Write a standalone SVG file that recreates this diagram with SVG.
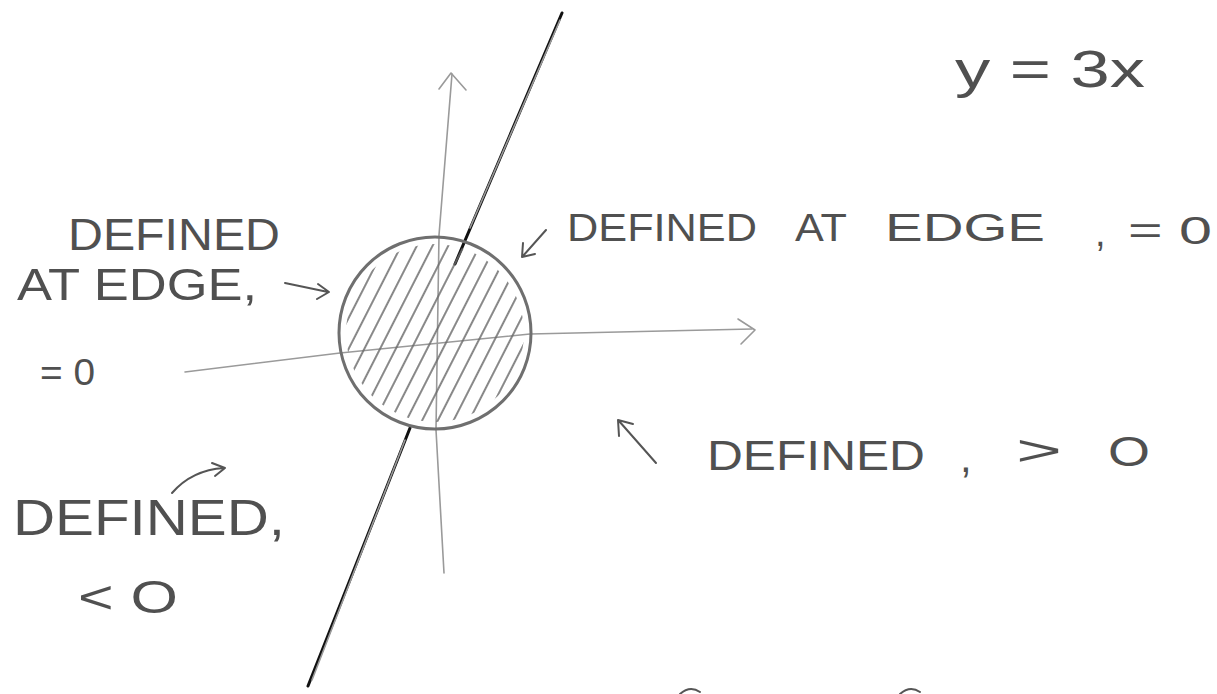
<svg xmlns="http://www.w3.org/2000/svg" width="1217" height="694" viewBox="0 0 1217 694">
<style>
.lbl{font-family:"Liberation Sans","DejaVu Sans",sans-serif;fill:#505050;font-weight:normal}
.pen{fill:none;stroke:#555;stroke-width:2;stroke-linecap:round;stroke-linejoin:round}
.faint{fill:none;stroke:#9a9a9a;stroke-width:1.6;stroke-linecap:round;stroke-linejoin:round}
.ink{fill:none;stroke:#111;stroke-width:3;stroke-linecap:round}
</style>
<defs>
<pattern id="hatch" patternUnits="userSpaceOnUse" width="14" height="14" patternTransform="rotate(27)">
<line x1="7" y1="0" x2="7" y2="14" stroke="#6a6a6a" stroke-width="1.6"/>
</pattern>
<clipPath id="inner"><circle cx="435" cy="333" r="89"/></clipPath>
</defs>
<rect width="1217" height="694" fill="#fff"/>

<g id="connectors">
<path class="faint" d="M452,74 L439,235 L436,430 L444,573"/>
<path class="faint" d="M439,89 L451,73 L466,90"/>
<path class="faint" d="M185,372 L340,353 L530,334 L752,329"/>
<path class="faint" d="M738,319 L755,330 L741,344"/>
<path class="ink" d="M562,13 L455,264"/>
<path class="ink" d="M410,428 L308,686"/>
<path class="faint" d="M560,20 L470,228 M405,440 L312,680"/>
<path class="pen" d="M285,283 L328,292 M318,284 L329,292 L317,299"/>
<path class="pen" d="M546,230 L523,256 M523,243 L522,257 L535,254"/>
<path class="pen" d="M656,463 L619,421 M619,436 L618,420 L633,424"/>
<path class="pen" d="M172,493 Q192,470 224,468 M212,463 L225,468 L215,476"/>
</g>

<g id="disk">
<circle cx="435" cy="333" r="90" fill="url(#hatch)" clip-path="url(#inner)"/>
<circle cx="435" cy="333" r="96" fill="none" stroke="#6f6f6f" stroke-width="3"/>
</g>

<g id="label-equation">
<text class="lbl" x="955" y="87" font-size="52" textLength="190" lengthAdjust="spacingAndGlyphs">y = 3x</text>
</g>
<g id="label-left-edge">
<text class="lbl" x="68" y="250" font-size="44" textLength="212" lengthAdjust="spacingAndGlyphs">DEFINED</text>
<text class="lbl" x="17" y="300" font-size="44" textLength="240" lengthAdjust="spacingAndGlyphs">AT EDGE,</text>
<text class="lbl" x="40" y="385" font-size="36" textLength="55" lengthAdjust="spacingAndGlyphs">= 0</text>
</g>
<g id="label-right-edge">
<text class="lbl" x="567" y="241" font-size="38" textLength="190" lengthAdjust="spacingAndGlyphs">DEFINED</text>
<text class="lbl" x="795" y="241" font-size="38" textLength="52" lengthAdjust="spacingAndGlyphs">AT</text>
<text class="lbl" x="885" y="241" font-size="38" textLength="160" lengthAdjust="spacingAndGlyphs">EDGE</text>
<text class="lbl" x="1095" y="246" font-size="38">,</text>
<text class="lbl" x="1128" y="244" font-size="38" textLength="84" lengthAdjust="spacingAndGlyphs">= 0</text>
</g>
<g id="label-positive">
<text class="lbl" x="707" y="470" font-size="42" textLength="218" lengthAdjust="spacingAndGlyphs">DEFINED</text>
<text class="lbl" x="960" y="472" font-size="42">,</text>
<text class="lbl" x="1016" y="465" font-size="42" textLength="46" lengthAdjust="spacingAndGlyphs">&gt;</text>
<text class="lbl" x="1108" y="466" font-size="42" textLength="42" lengthAdjust="spacingAndGlyphs">O</text>
</g>
<g id="label-negative">
<text class="lbl" x="13" y="535" font-size="50" textLength="272" lengthAdjust="spacingAndGlyphs">DEFINED,</text>
<text class="lbl" x="78" y="613" font-size="46" textLength="100" lengthAdjust="spacingAndGlyphs">&lt; O</text>
</g>
<g id="cut-marks">
<path class="pen" d="M680,694 Q690,685 700,692"/>
<path class="pen" d="M900,694 Q910,685 920,692"/>
</g>
</svg>
